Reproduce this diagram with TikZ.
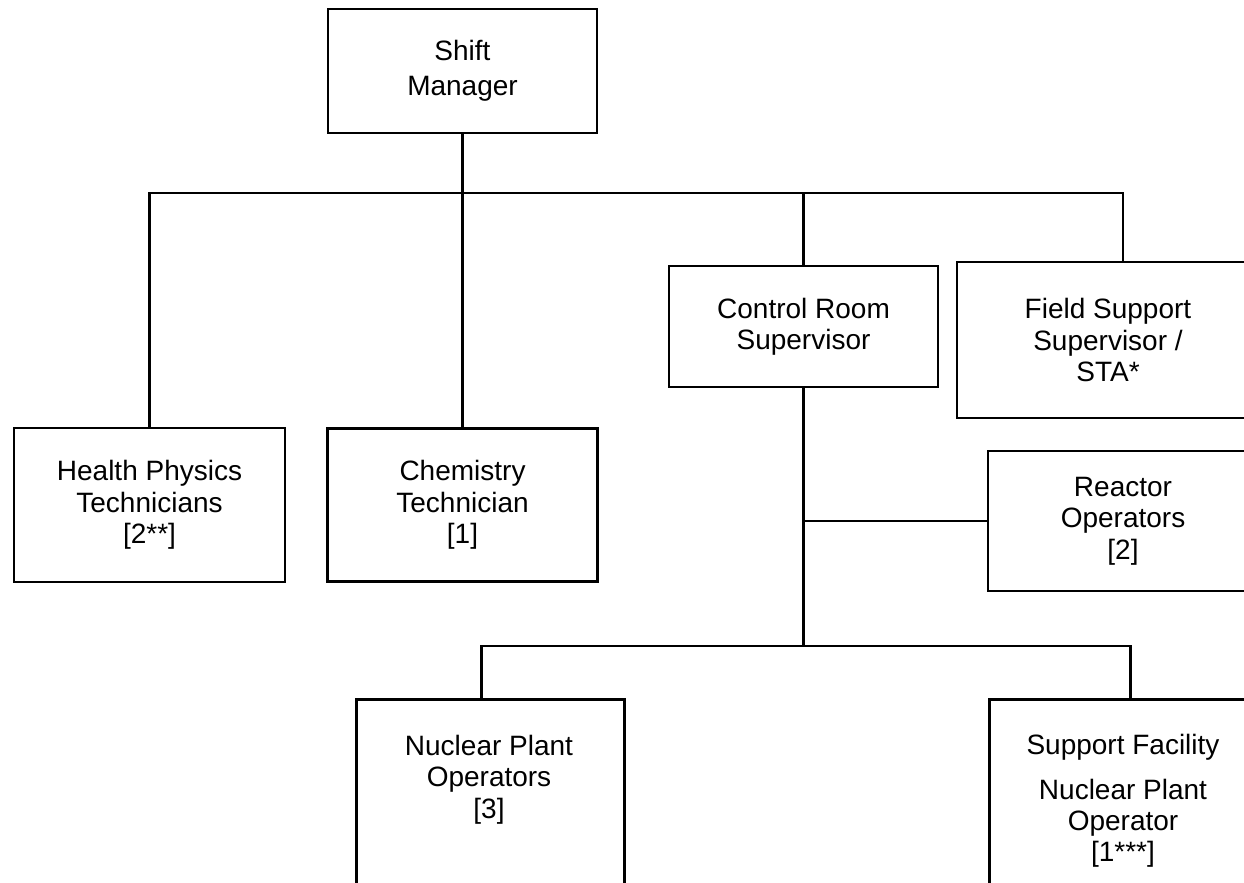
\documentclass[tikz,border=0pt]{standalone}
\usepackage{fontspec}
\setmainfont{Liberation Sans}
\begin{document}
\begin{tikzpicture}[x=0.75pt,y=-0.75pt,
  lbl/.style={font=\fontsize{21}{23.5}\selectfont, align=center},
  box/.style={draw, line width=2.2pt, rectangle, inner sep=0pt, lbl},
  txt/.style={inner sep=0pt, lbl},
  link/.style={line width=1.6pt}]
\useasboundingbox (0,0) rectangle (1244,882);
\clip (0,0) rectangle (1244,882);

% top level
\node[box, minimum width=269*0.75pt, minimum height=124*0.75pt] (sm) at (462.5,71) {Shift\\[3pt]Manager};

% second level
\node[box, minimum width=271*0.75pt, minimum height=154*0.75pt] (hp) at (149.5,505) {Health Physics\\Technicians\\{[2**]}};
\node[box, minimum width=270*0.75pt, minimum height=153*0.75pt] (ct) at (462.5,505) {Chemistry\\Technician\\{[1]}};
\node[box, minimum width=269*0.75pt, minimum height=121*0.75pt] (crs) at (803.5,326.5) {Control Room\\Supervisor};
\node[box, minimum width=302*0.75pt, minimum height=156*0.75pt] (fs) at (1108,340) {Field Support\\Supervisor /\\STA*};

% under the control room supervisor
\node[box, minimum width=270*0.75pt, minimum height=140*0.75pt] (ro) at (1123,521) {Reactor\\Operators\\{[2]}};
\node[box, anchor=north west, minimum width=268*0.75pt, minimum height=250*0.75pt] (npo) at (355,698) {};
\node[txt, anchor=north] (npot) at (489,735) {Nuclear Plant\\Operators\\{[3]}};
\node[box, anchor=north west, minimum width=300*0.75pt, minimum height=250*0.75pt] (sf) at (988,698) {};
\node[txt, anchor=north] (sft) at (1123,734) {Support Facility\\[10pt]Nuclear Plant\\Operator\\{[1***]}};

% connectors
\coordinate (bus) at (0,193);
\coordinate (lowbus) at (0,646);
\draw[link] (sm.south) -- (sm.south |- bus);
\draw[link] (hp.north) -- (hp.north |- bus) -| ([xshift=11.25pt]fs.north);
\draw[link] (ct.north) -- (ct.north |- bus);
\draw[link] (crs.north) -- (crs.north |- bus);
\draw[link] (crs.south) -- (crs.south |- lowbus);
\draw[link] (crs.south |- ro.west) -- (ro.west);
\draw[link] ([xshift=-6.75pt]npo.north) |- (crs.south |- lowbus) -| ([xshift=-6.75pt]sf.north);
\end{tikzpicture}
\end{document}
